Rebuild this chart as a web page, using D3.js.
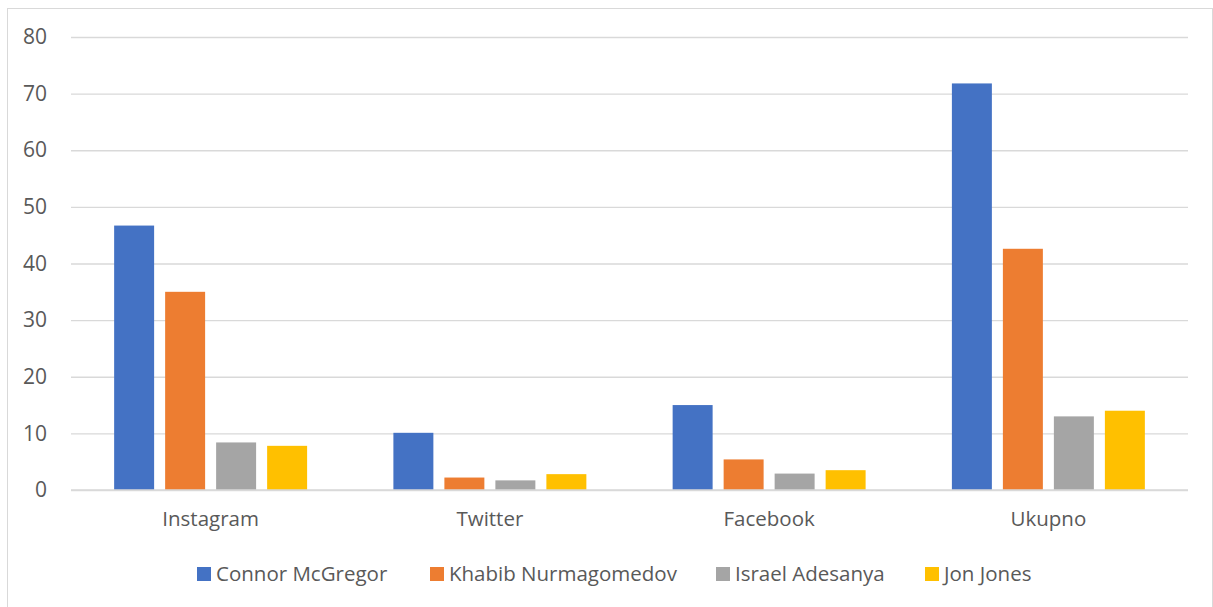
<!DOCTYPE html>
<html>
<head>
<meta charset="utf-8">
<script src="https://cdn.jsdelivr.net/npm/d3@7"></script>
<style>
  body { margin: 0; background: #fff; }
  text { font-family: "Open Sans", "Liberation Sans", sans-serif; fill: #595959; }
</style>
</head>
<body>
<svg id="chart" width="1213" height="607"></svg>
<script>
const categories = ['Instagram', 'Twitter', 'Facebook', 'Ukupno'];
const seriesNames = ['Connor McGregor', 'Khabib Nurmagomedov', 'Israel Adesanya', 'Jon Jones'];
const seriesColors = ['#4472c4', '#ed7d31', '#a5a5a5', '#ffc000'];
const connor = [46.7, 10.1, 15.0, 71.8];
const khabib = [35.0, 2.2, 5.4, 42.6];
const israel = [8.4, 1.7, 2.9, 13.0];
const jon = [7.8, 2.8, 3.5, 14.0];
const yTicks = [0, 10, 20, 30, 40, 50, 60, 70, 80];

const series = [connor, khabib, israel, jon];

const svg = d3.select('#chart');
const margin = {left: 71, right: 25, top: 37, bottom: 117};
const width = 1213, height = 607;
const fontSize = '20.5px';

// outer frame
svg.append('rect')
  .attr('x', 7.5).attr('y', 8.5)
  .attr('width', width - 8).attr('height', height - 8)
  .attr('fill', 'none').attr('stroke', '#d9d9d9').attr('stroke-width', 1);

const x0 = d3.scaleBand().domain(categories)
  .range([margin.left, width - margin.right]);
const x1 = d3.scaleBand().domain(d3.range(seriesNames.length))
  .range([0, x0.bandwidth()])
  .paddingInner(0.216).paddingOuter(0.846);
const y = d3.scaleLinear().domain([0, 80])
  .range([height - margin.bottom, margin.top]);

// gridlines + y labels
const yAxis = d3.axisLeft(y).tickValues(yTicks)
  .tickSize(-(width - margin.left - margin.right)).tickPadding(24);
const gy = svg.append('g').attr('transform', `translate(${margin.left},0)`).call(yAxis);
gy.select('.domain').remove();
gy.selectAll('.tick line').attr('stroke', '#d9d9d9').attr('stroke-width', 1.3);
gy.selectAll('.tick text').style('font-size', '21px').attr('fill', '#595959');

// bars
const groups = svg.append('g').selectAll('g.cat').data(categories).enter()
  .append('g').attr('class', 'cat')
  .attr('transform', d => `translate(${x0(d)},0)`);
groups.selectAll('rect').data((d, i) => series.map((s, k) => ({k, v: s[i]}))).enter()
  .append('rect')
  .attr('x', d => x1(d.k))
  .attr('width', x1.bandwidth())
  .attr('y', d => y(d.v))
  .attr('height', d => y(0) - y(d.v))
  .attr('fill', d => seriesColors[d.k]);

// baseline
svg.append('line')
  .attr('x1', margin.left).attr('x2', width - margin.right)
  .attr('y1', y(0)).attr('y2', y(0))
  .attr('stroke', '#d9d9d9').attr('stroke-width', 1.3);

// x axis labels
const xAxis = d3.axisBottom(x0).tickSize(0).tickPadding(21);
const gx = svg.append('g').attr('transform', `translate(0,${y(0)})`).call(xAxis);
gx.select('.domain').remove();
gx.selectAll('.tick text').style('font-size', fontSize).attr('fill', '#595959');

// legend
const legendX = [197, 430, 716, 925];
const legend = svg.append('g').selectAll('g.leg').data(seriesNames).enter()
  .append('g').attr('class', 'leg')
  .attr('transform', (d, i) => `translate(${legendX[i]},574)`);
legend.append('rect')
  .attr('x', 0).attr('y', -7).attr('width', 14).attr('height', 14)
  .attr('fill', (d, i) => seriesColors[i]);
legend.append('text')
  .attr('x', 19).attr('dy', '0.35em')
  .style('font-size', fontSize)
  .text(d => d);
</script>
</body>
</html>
